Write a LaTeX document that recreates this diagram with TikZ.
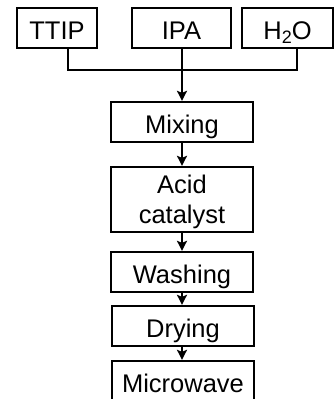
\documentclass[tikz,border=0pt]{standalone}
\usepackage{fontspec}
\setmainfont{Liberation Sans}
\usetikzlibrary{arrows.meta}

\tikzset{
  stepbox/.style={draw, line width=2.3bp, inner sep=0pt,
    font=\fontsize{25.5bp}{30bp}\selectfont, align=center},
  oneline/.style={text height=22bp, text depth=0bp},
  flow/.style={line width=2.3bp, -{Stealth[length=10bp,width=10bp,inset=2bp]}},
  mergeline/.style={line width=2.3bp}
}

\begin{document}
\begin{tikzpicture}[x=1bp,y=-1bp]
  \useasboundingbox (0,0) rectangle (334,399);

  % starting materials
  \node[stepbox, oneline, minimum width=80bp, minimum height=40bp] (ttip) at (57,28) {TTIP};
  \node[stepbox, oneline, minimum width=99bp, minimum height=40bp] (ipa) at (181.5,28) {IPA};
  \node[stepbox, oneline, minimum width=91bp, minimum height=40bp] (water) at (287.5,28)
    {H\raisebox{-0.3ex}{\fontsize{18bp}{18bp}\selectfont 2}O};

  % process steps
  \node[stepbox, oneline, minimum width=142bp, minimum height=40bp] (mix) at (182,122) {Mixing};
  \node[stepbox, text depth=0bp, minimum width=142bp, minimum height=65bp] (acid) at (182,199.5) {Acid\\catalyst};
  \node[stepbox, oneline, minimum width=142bp, minimum height=40bp] (wash) at (182,272) {Washing};
  \node[stepbox, oneline, minimum width=142bp, minimum height=40bp] (dry) at (183,326) {Drying};
  \node[stepbox, oneline, minimum width=142bp, minimum height=41bp] (micro) at (183,381.5) {Microwave};

  % merge line of the three inputs
  \coordinate (jl) at (68,70);
  \coordinate (jr) at (297,70);
  \draw[mergeline] (ttip.south -| jl) -- (jl) -- (jr) -- (water.south -| jr);
  \draw[flow] (ipa.south -| mix.north) -- (mix.north);

  % step sequence
  \draw[flow] (mix.south) -- (acid.north);
  \draw[flow] (acid.south) -- (acid.south |- wash.north);
  \draw[flow] (wash.south) -- (wash.south |- dry.north);
  \draw[flow] (dry.south -| wash.south) -- (wash.south |- micro.north);
\end{tikzpicture}
\end{document}
